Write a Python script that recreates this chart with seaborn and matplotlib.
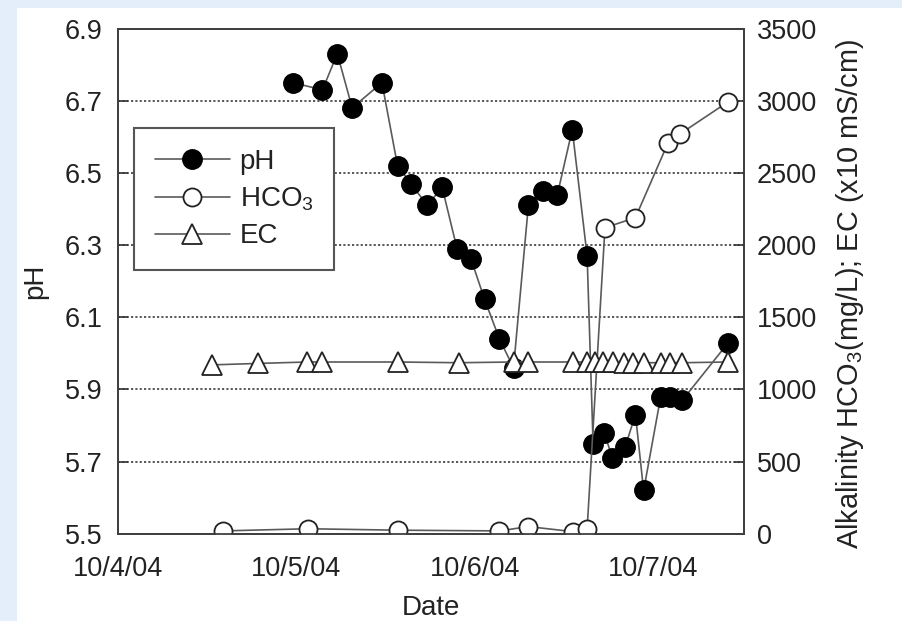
import numpy as np
import pandas as pd
import matplotlib
matplotlib.use("Agg")
import matplotlib.pyplot as plt
import seaborn as sns
from matplotlib.patches import Rectangle
from matplotlib.lines import Line2D

# ---------------- data ----------------
start_date = "2004-10-04"
ph_hours = [23.5, 27.5, 29.5, 31.5, 35.5, 37.6, 39.4, 41.6, 43.6, 45.6, 47.5, 49.3,
            51.3, 53.2, 55.2, 57.1, 59.1, 61.1, 63.1, 63.9, 65.4, 66.5, 68.2, 69.6,
            70.7, 73.0, 74.3, 75.9, 82.1]
ph_values = [6.75, 6.73, 6.83, 6.68, 6.75, 6.52, 6.47, 6.41, 6.46, 6.29, 6.26, 6.15,
             6.04, 5.96, 6.41, 6.45, 6.44, 6.62, 6.27, 5.75, 5.78, 5.71, 5.74, 5.83,
             5.62, 5.88, 5.88, 5.87, 6.03]
hco3_hours = [14.1, 25.6, 37.7, 51.3, 55.2, 61.2, 63.1, 65.5, 69.6, 74.0, 75.6, 82.0]
hco3_values = [20, 35, 25, 20, 50, 15, 35, 2120, 2190, 2710, 2770, 2990]
ec_hours = [12.6, 18.8, 25.4, 27.5, 37.6, 45.8, 53.2, 55.2, 61.2, 63.1, 64.2, 65.3,
            66.6, 68.0, 69.3, 70.7, 73.0, 74.3, 75.9, 82.1]
ec_values = [1170, 1180, 1190, 1190, 1190, 1185, 1190, 1190, 1190, 1190, 1190, 1190,
             1190, 1185, 1185, 1185, 1185, 1185, 1185, 1190]
x_tick_labels = ["10/4/04", "10/5/04", "10/6/04", "10/7/04"]
ph_ticks = [5.5, 5.7, 5.9, 6.1, 6.3, 6.5, 6.7, 6.9]
right_ticks = [0, 500, 1000, 1500, 2000, 2500, 3000, 3500]
series_names = ["pH", "HCO$_3$", "EC"]

t0 = pd.Timestamp(start_date)
def to_dates(hours):
    return t0 + pd.to_timedelta(np.array(hours), unit="h")

ph_df = pd.DataFrame({"Date": to_dates(ph_hours), "pH": ph_values})
hco3_df = pd.DataFrame({"Date": to_dates(hco3_hours), "val": hco3_values})
ec_df = pd.DataFrame({"Date": to_dates(ec_hours), "val": ec_values})

# ---------------- style ----------------
sns.set_theme(style="white")
plt.rcParams["font.family"] = ["Liberation Sans", "DejaVu Sans"]
plt.rcParams["mathtext.fontset"] = "custom"
plt.rcParams["mathtext.rm"] = "Liberation Sans"
plt.rcParams["mathtext.it"] = "Liberation Sans:italic"
plt.rcParams["mathtext.bf"] = "Liberation Sans:bold"
plt.rcParams["mathtext.default"] = "regular"

W, H = 902, 621
fig = plt.figure(figsize=(W / 100, H / 100), dpi=100, facecolor="white")
blue = "#e4edfa"
fig.patches.append(Rectangle((0, 0), 17 / W, 1, transform=fig.transFigure,
                             facecolor=blue, edgecolor="none", zorder=-10))
fig.patches.append(Rectangle((0, 1 - 8 / H), 1, 8 / H, transform=fig.transFigure,
                             facecolor=blue, edgecolor="none", zorder=-10))

left, right, top, bottom = 118, 744, 28.5, 533.8
ax = fig.add_axes([left / W, 1 - bottom / H, (right - left) / W, (bottom - top) / H])
ax2 = ax.twinx()
ax.set_facecolor("none")

line_col = "#5a5a5a"
sns.lineplot(data=ph_df, x="Date", y="pH", ax=ax, color=line_col, lw=1.2,
             marker="o", markersize=14, markerfacecolor="black",
             markeredgecolor="black", markeredgewidth=1, estimator=None, legend=False)
sns.lineplot(data=hco3_df, x="Date", y="val", ax=ax2, color=line_col, lw=1.2,
             marker="o", markersize=13, markerfacecolor="white",
             markeredgecolor="#222222", markeredgewidth=1.3, estimator=None, legend=False)
sns.lineplot(data=ec_df, x="Date", y="val", ax=ax2, color=line_col, lw=1.2,
             marker="^", markersize=14, markerfacecolor="white",
             markeredgecolor="#222222", markeredgewidth=1.3, estimator=None, legend=False)

# axes limits / ticks
ax.set_xlim(t0, t0 + pd.Timedelta(hours=84.2))
ax.set_xticks([t0 + pd.Timedelta(days=i) for i in range(len(x_tick_labels))])
ax.set_xticklabels(x_tick_labels)
ax.set_ylim(5.5, 6.9)
ax.set_yticks(ph_ticks)
ax.set_yticklabels([f"{v:.1f}" for v in ph_ticks])
ax2.set_ylim(0, 3500)
ax2.set_yticks(right_ticks)
ax2.set_yticklabels([str(v) for v in right_ticks])

fs_tick = 19.5
ax.tick_params(axis="both", direction="in", length=7, width=1.2, colors="#333333",
               labelsize=fs_tick, labelcolor="#222222")
ax.tick_params(axis="y", pad=11)
ax.tick_params(axis="x", pad=16)
ax2.tick_params(axis="y", direction="in", length=7, width=1.2, colors="#333333",
                labelsize=fs_tick, labelcolor="#222222", pad=9)

ax.yaxis.grid(True, linestyle=(0, (1.2, 1.2)), color="#4a4a4a", linewidth=1.3)
ax.xaxis.grid(False)
ax2.grid(False)

for a in (ax, ax2):
    for s in a.spines.values():
        s.set_color("#404040")
        s.set_linewidth(1.3)

ax.set_xlabel("Date", fontsize=20, color="#222222", labelpad=9)
ax.set_ylabel("pH", fontsize=20, color="#222222", labelpad=12)
ax2.set_ylabel("Alkalinity HCO$_3$(mg/L); EC (x10 mS/cm)", fontsize=20.8,
               color="#222222")
ax2.yaxis.set_label_coords((834 - left) / (right - left), (bottom - 294) / (bottom - top))

# legend
handles = [
    Line2D([], [], color=line_col, lw=1.2, marker="o", markersize=14,
           markerfacecolor="black", markeredgecolor="black"),
    Line2D([], [], color=line_col, lw=1.2, marker="o", markersize=13,
           markerfacecolor="white", markeredgecolor="#222222", markeredgewidth=1.3),
    Line2D([], [], color=line_col, lw=1.2, marker="^", markersize=14,
           markerfacecolor="white", markeredgecolor="#222222", markeredgewidth=1.3),
]
leg = ax2.legend(handles, series_names, loc="upper left",
                 bbox_to_anchor=((134 - left) / (right - left), (bottom - 128) / (bottom - top)),
                 borderaxespad=0, fontsize=20, frameon=True, fancybox=False,
                 framealpha=1, edgecolor="#555555", handlelength=2.7,
                 handletextpad=0.35, labelspacing=0.38, borderpad=0.75)
leg.get_frame().set_linewidth(1.5)
for t in leg.get_texts():
    t.set_color("#222222")

fig.savefig("out.png", dpi=100, facecolor=fig.get_facecolor())
